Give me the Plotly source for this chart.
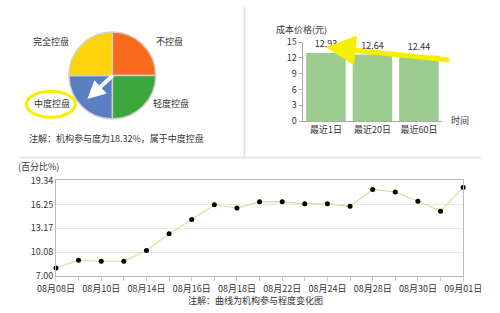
import plotly.graph_objects as go

# ---------------- data ----------------
pie_labels = ["不控盘", "轻度控盘", "中度控盘", "完全控盘"]
pie_values = [1, 1, 1, 1]
pie_colors = ["#fb6b1d", "#3ca73c", "#5a7ec2", "#fdd40c"]

bar_categories = ["最近1日", "最近20日", "最近60日"]
bar_values = [12.93, 12.64, 12.44]

line_dates = ["08月08日", "08月09日", "08月10日", "08月13日", "08月14日", "08月15日",
              "08月16日", "08月17日", "08月18日", "08月21日", "08月22日", "08月23日",
              "08月24日", "08月27日", "08月28日", "08月29日", "08月30日", "08月31日",
              "09月01日"]
line_values = [8.04, 9.03, 8.91, 8.91, 10.30, 12.45, 14.30, 16.21, 15.79, 16.58,
               16.58, 16.33, 16.33, 16.00, 18.19, 17.85, 16.65, 15.38, 18.44]
line_yticks = [7.00, 10.08, 13.17, 16.25, 19.34]

FONT = "Noto Sans CJK SC"
W, H = 500, 313


def px(x):
    return x / W


def py(y):
    return 1 - y / H


fig = go.Figure()

# pie
fig.add_trace(go.Pie(
    labels=pie_labels, values=pie_values, sort=False, direction="clockwise",
    rotation=0, marker=dict(colors=pie_colors, line=dict(color="#d0d0d0", width=1.5)),
    textinfo="none", showlegend=False, hoverinfo="label",
    domain=dict(x=[px(54), px(148)], y=[py(118.5), py(24.5)]),
))

# bar chart
fig.add_trace(go.Bar(
    x=bar_categories, y=bar_values, marker=dict(color="#9ccc8f", line=dict(width=0)),
    text=[f"{v:.2f}" for v in bar_values], textposition="outside",
    textfont=dict(size=9, color="#333"), cliponaxis=False,
    xaxis="x", yaxis="y", showlegend=False,
))

# line chart
fig.add_trace(go.Scatter(
    x=list(range(len(line_dates))), y=line_values, mode="lines+markers",
    line=dict(color="#d8dc8c", width=1.1),
    marker=dict(color="#000", size=5), cliponaxis=False,
    xaxis="x2", yaxis="y2", showlegend=False,
    hovertext=line_dates,
))

fig.update_layout(
    width=W, height=H, margin=dict(l=0, r=0, t=0, b=0),
    paper_bgcolor="white", plot_bgcolor="white",
    font=dict(family=FONT, size=9, color="#333"),
    bargap=0.15,
    xaxis=dict(domain=[px(307), px(458)], anchor="y", showgrid=False,
               showline=True, linecolor="#aaa", linewidth=1, ticks="",
               tickfont=dict(size=9, color="#333"), fixedrange=True),
    yaxis=dict(domain=[py(119), py(36.7)], anchor="x", range=[0, 15],
               tickvals=[0, 3, 6, 9, 12, 15], showgrid=False, zeroline=False,
               showline=True, linecolor="#aaa", linewidth=1, ticks="outside",
               ticklen=3, tickcolor="#aaa", tickfont=dict(size=9, color="#333")),
    xaxis2=dict(domain=[px(40), px(480.7)], anchor="y2", range=[0, 18],
                tickvals=list(range(len(line_dates))),
                ticktext=[d if i % 2 == 0 else "" for i, d in enumerate(line_dates)],
                showgrid=False, showline=True, linecolor="#bbb", linewidth=1,
                mirror=True, ticks="outside", ticklen=4, tickcolor="#ccc",
                tickangle=0, tickfont=dict(size=9, color="#333")),
    yaxis2=dict(domain=[py(280.7), py(181)], anchor="x2", range=[7, 19.34],
                tickvals=line_yticks, ticktext=[f"{v:.2f}" for v in line_yticks],
                showgrid=True, gridcolor="#e8e8e8", zeroline=False,
                showline=True, linecolor="#bbb", linewidth=1, mirror=True,
                ticks="", tickfont=dict(size=9, color="#333")),
)

shapes = [
    # separators
    dict(type="line", xref="paper", yref="paper", x0=0, x1=1, y0=py(157), y1=py(157),
         line=dict(color="#e6e6e6", width=2)),
    dict(type="line", xref="paper", yref="paper", x0=px(244), x1=px(244), y0=py(157), y1=1,
         line=dict(color="#e6e6e6", width=2)),
    # yellow ellipse
    dict(type="circle", xref="paper", yref="paper", x0=px(8), x1=px(61), y0=py(115), y1=py(88),
         line=dict(color="#f7ee00", width=3)),
]
fig.update_layout(shapes=shapes)

ann = []


def text(x, y, s, size=9, xanchor="center"):
    ann.append(dict(x=px(x), y=py(y), xref="paper", yref="paper", text=s, showarrow=False,
                    font=dict(size=size, color="#333"), xanchor=xanchor, yanchor="middle"))


text(35, 36, "完全控盘")
text(163, 36, "不控盘")
text(36, 101, "中度控盘")
text(164, 101, "轻度控盘")
text(105, 137, "注解：机构参与度为18.32%，属于中度控盘")
text(306, 23, "成本价格(元)")
text(477, 118, "时间")
text(21, 166, "(百分比%)")
text(256, 306, "注解：曲线为机构参与程度变化图")

# white arrow in pie
ann.append(dict(x=px(74), y=py(96), xref="paper", yref="paper", text="", showarrow=True,
                ax=27, ay=-25, arrowcolor="white", arrowwidth=4, arrowhead=2, arrowsize=0.9))
# yellow arrow on bar chart
ann.append(dict(x=px(332), y=py(42), xref="paper", yref="paper", text="", showarrow=True,
                ax=125, ay=13, arrowcolor="#f7ef00", arrowwidth=5, arrowhead=2, arrowsize=1.2))

fig.update_layout(annotations=ann)

fig.write_html("out.html")
